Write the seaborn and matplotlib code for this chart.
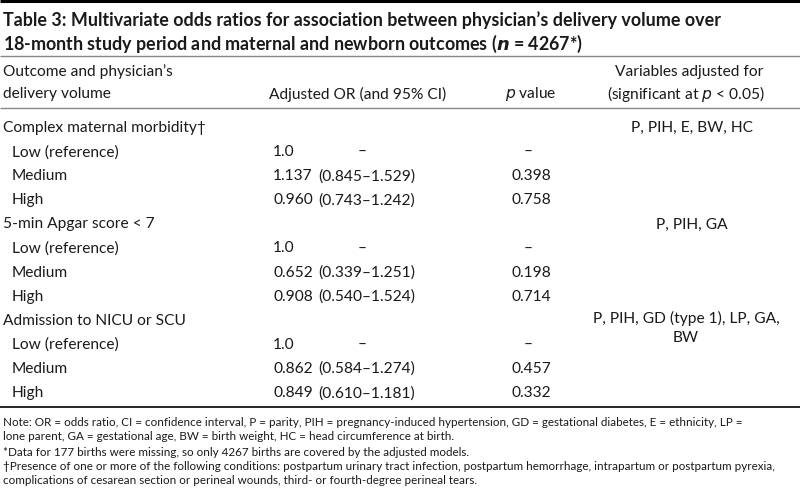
import matplotlib
matplotlib.use("Agg")
import matplotlib.pyplot as plt
import seaborn as sns

sns.set_theme(style="white")
plt.rcParams['font.family'] = ['Lato', 'DejaVu Sans']

title_lines = [
    "Table 3: Multivariate odds ratios for association between physician\u2019s delivery volume over",
    "18-month study period and maternal and newborn outcomes ($\\boldsymbol{n}$ = 4267*)",
]
outcomes = ["Complex maternal morbidity\u2020", "5-min Apgar score < 7", "Admission to NICU or SCU"]
adjusted_for = ["P, PIH, E, BW, HC", "P, PIH, GA", "P, PIH, GD (type 1), LP, GA,\nBW"]
volumes = ["Low (reference)", "Medium", "High"]
odds_ratios = [["1.0", "1.137", "0.960"], ["1.0", "0.652", "0.908"], ["1.0", "0.862", "0.849"]]
ci_values = [["\u2013", "(0.845\u20131.529)", "(0.743\u20131.242)"],
             ["\u2013", "(0.339\u20131.251)", "(0.540\u20131.524)"],
             ["\u2013", "(0.584\u20131.274)", "(0.610\u20131.181)"]]
p_values = [["\u2013", "0.398", "0.758"], ["\u2013", "0.198", "0.714"], ["\u2013", "0.457", "0.332"]]
notes = [
    "Note: OR = odds ratio, CI = confidence interval, P = parity, PIH = pregnancy-induced hypertension, GD = gestational diabetes, E = ethnicity, LP =",
    "lone parent, GA = gestational age, BW = birth weight, HC = head circumference at birth.",
    "*Data for 177 births were missing, so only 4267 births are covered by the adjusted models.",
    "\u2020Presence of one or more of the following conditions: postpartum urinary tract infection, postpartum hemorrhage, intrapartum or postpartum pyrexia,",
    "complications of cesarean section or perineal wounds, third- or fourth-degree perineal tears.",
]

W, H = 800, 489
fig = plt.figure(figsize=(W / 100, H / 100), dpi=100)
ax = fig.add_axes([0, 0, 1, 1])
ax.set_xlim(0, W)
ax.set_ylim(H, 0)
ax.axis("off")

txt = "#1a1a1a"
fs = 11.2
# rules
ax.hlines(1.5, 0, W, color="black", lw=2.2)
ax.hlines(57, 0, W, color="#888888", lw=1.0)
ax.hlines(108.5, 0, W, color="#888888", lw=1.0)
ax.hlines(407.5, 0, W, color="black", lw=1.2)

# title
ax.text(3, 20, title_lines[0], fontsize=12.9, fontweight="bold", va="center", ha="left", color=txt)
ax.text(3, 44, title_lines[1], fontsize=12.9, fontweight="bold", va="center", ha="left", color=txt)

# header
ax.text(3, 72, "Outcome and physician\u2019s", fontsize=fs, va="center", color=txt)
ax.text(3, 94, "delivery volume", fontsize=fs, va="center", color=txt)
ax.text(269, 94, "Adjusted OR (and 95% CI)", fontsize=fs, va="center", color=txt)
ax.text(505, 94, "$\\mathit{p}$ value", fontsize=fs, va="center", color=txt)
ax.text(689, 72, "Variables adjusted for", fontsize=fs, va="center", ha="center", color=txt)
ax.text(686, 94, "(significant at $\\mathit{p}$ < 0.05)", fontsize=fs, va="center", ha="center", color=txt)

row_y = 128
step = 24.1
for i, outcome in enumerate(outcomes):
    ax.text(3, row_y, outcome, fontsize=fs, va="center", color=txt)
    if "\n" in adjusted_for[i]:
        l1, l2 = adjusted_for[i].split("\n")
        ax.text(686, row_y - 2, l1, fontsize=fs, va="center", ha="center", color=txt)
        ax.text(686, row_y + 17, l2, fontsize=fs, va="center", ha="center", color=txt)
    else:
        ax.text(692, row_y, adjusted_for[i], fontsize=fs, va="center", ha="center", color=txt)
    row_y += step
    for j, vol in enumerate(volumes):
        ax.text(12, row_y, vol, fontsize=fs, va="center", color=txt)
        ax.text(273, row_y, odds_ratios[i][j], fontsize=fs, va="center", color=txt)
        if ci_values[i][j] == "\u2013":
            ax.text(362, row_y, ci_values[i][j], fontsize=fs, va="center", ha="center", color=txt)
        else:
            ax.text(318, row_y, ci_values[i][j], fontsize=fs, va="center", color=txt)
        if p_values[i][j] == "\u2013":
            ax.text(528, row_y, p_values[i][j], fontsize=fs, va="center", ha="center", color=txt)
        else:
            ax.text(512, row_y, p_values[i][j], fontsize=fs, va="center", color=txt)
        row_y += step

note_y = [422, 436, 452, 467, 481]
for y, line in zip(note_y, notes):
    ax.text(3, y, line, fontsize=8.35, va="center", color=txt)

sns.despine(ax=ax, left=True, bottom=True)
fig.savefig("out.png", dpi=100, facecolor="white")
